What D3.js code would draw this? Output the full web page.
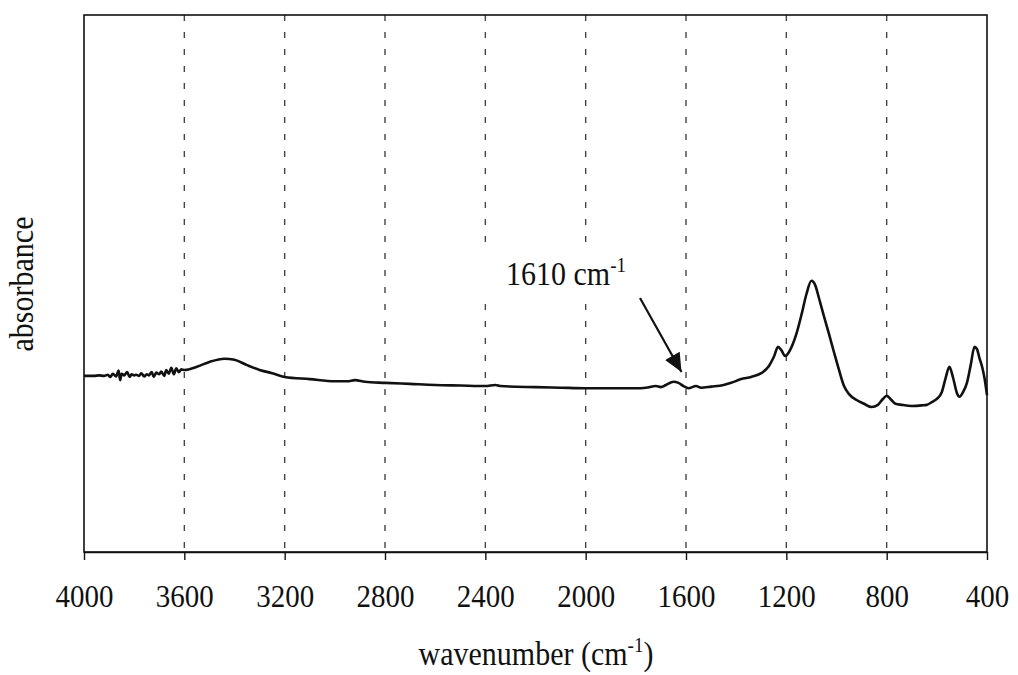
<!DOCTYPE html>
<html>
<head>
<meta charset="utf-8">
<script src="https://cdn.jsdelivr.net/npm/d3@7"></script>
<style>
  html, body { margin: 0; padding: 0; background: #fff; }
  svg { display: block; }
  text { font-family: "Liberation Serif", "Times New Roman", serif; fill: #111; }
</style>
</head>
<body>
<svg id="chart" width="1018" height="675"></svg>
<script>
// ---- data ----
const wavenumbers = [
  4000, 3960, 3940, 3920, 3905, 3895, 3885, 3872, 3862, 3856, 3850, 3840, 3828, 3818, 3810,
  3800, 3792, 3780, 3772, 3760, 3750, 3742, 3730, 3722, 3712, 3700, 3692, 3680, 3672, 3662,
  3652, 3642, 3632, 3622, 3612, 3600, 3550, 3500, 3440, 3400, 3350, 3300, 3250, 3200, 3100,
  3000, 2950, 2920, 2880, 2800, 2700, 2600, 2500, 2400, 2360, 2340, 2200, 2100, 2000, 1900,
  1800, 1760, 1720, 1700, 1680, 1650, 1630, 1610, 1590, 1560, 1540, 1500, 1450, 1420, 1380,
  1340, 1300, 1270, 1250, 1233, 1220, 1205, 1190, 1160, 1140, 1120, 1100, 1085, 1070, 1050,
  1030, 1010, 990, 970, 950, 920, 890, 860, 835, 815, 800, 785, 765, 740, 700,
  660, 640, 620, 600, 580, 565, 550, 535, 520, 510, 495, 480, 465, 450, 440,
  430, 420, 410, 400
];
const absorbance = [
  32.8, 32.8, 32.9, 32.8, 33.0, 32.6, 33.2, 32.7, 33.8, 32.0, 33.2, 32.9, 33.5, 32.6, 33.1,
  32.9, 33.0, 32.8, 33.3, 32.7, 33.1, 32.9, 33.5, 32.6, 33.4, 33.1, 33.6, 32.8, 33.9, 33.2,
  34.3, 33.1, 34.2, 33.5, 34.0, 33.9, 34.5, 35.4, 36.0, 35.8, 34.8, 33.9, 33.3, 32.6, 32.2,
  31.8, 31.8, 32.0, 31.7, 31.5, 31.3, 31.1, 31.0, 30.9, 31.1, 30.9, 30.7, 30.6, 30.5, 30.5,
  30.5, 30.6, 30.9, 30.7, 31.1, 31.7, 31.5, 30.9, 30.5, 30.9, 30.6, 30.8, 31.1, 31.5, 32.2,
  32.6, 33.3, 34.6, 36.3, 38.2, 37.6, 36.5, 37.2, 40.6, 44.1, 48.0, 50.5, 49.7, 47.3, 43.9,
  40.6, 37.2, 33.9, 30.9, 29.4, 28.3, 27.6, 27.0, 27.4, 28.5, 29.1, 28.5, 27.6, 27.4, 27.2,
  27.3, 27.4, 27.9, 28.5, 29.8, 32.4, 34.5, 32.4, 29.6, 28.9, 29.8, 31.5, 34.8, 38.2, 37.8,
  36.1, 34.6, 32.4, 29.2
];
const xTicks = [4000, 3600, 3200, 2800, 2400, 2000, 1600, 1200, 800, 400];
const gridValues = [3600, 3200, 2800, 2400, 2000, 1600, 1200, 800];
const xDomain = [4000, 400];
const yDomain = [0, 100];
const annotationWavenumber = 1610;

// ---- layout ----
const W = 1018, H = 675;
const margin = { left: 84, top: 15, right: 31, bottom: 123 };
const iw = W - margin.left - margin.right;
const ih = H - margin.top - margin.bottom;
const stretch = 1.12; // reference glyphs are vertically stretched

const svg = d3.select("#chart");
const g = svg.append("g").attr("transform", `translate(${margin.left},${margin.top})`);

const x = d3.scaleLinear().domain(xDomain).range([0, iw]);
const y = d3.scaleLinear().domain(yDomain).range([ih, 0]);

// gridlines
g.append("g").selectAll("line").data(gridValues).join("line")
  .attr("x1", d => x(d)).attr("x2", d => x(d))
  .attr("y1", 0).attr("y2", ih)
  .attr("stroke", "#444").attr("stroke-width", 1.4)
  .attr("stroke-dasharray", "6,11");

// white box behind annotation label (interrupts gridlines)
g.append("rect")
  .attr("x", 465 - margin.left).attr("y", 243 - margin.top)
  .attr("width", 195).attr("height", 60)
  .attr("fill", "#fff");

// frame
g.append("rect")
  .attr("x", 0).attr("y", 0).attr("width", iw).attr("height", ih)
  .attr("fill", "none").attr("stroke", "#111").attr("stroke-width", 1.6);

// x axis
const xAxis = d3.axisBottom(x).tickValues(xTicks).tickSize(8).tickSizeOuter(0).tickFormat(d3.format("d"));
const ax = g.append("g").attr("transform", `translate(0,${ih})`).call(xAxis);
ax.select(".domain").attr("stroke", "#111").attr("stroke-width", 1.4);
ax.selectAll(".tick line").attr("stroke", "#111").attr("stroke-width", 1.4);
ax.selectAll(".tick text")
  .attr("y", 0).attr("dy", 0)
  .attr("transform", `translate(0,55) scale(1,${stretch})`)
  .style("font-family", "'Liberation Serif', 'Times New Roman', serif")
  .style("font-size", "29px").attr("fill", "#111");

// spectrum line
const pts = wavenumbers.map((w, i) => [w, absorbance[i]]);
const line = d3.line().x(d => x(d[0])).y(d => y(d[1])).curve(d3.curveMonotoneX);
g.append("path").datum(pts)
  .attr("d", line)
  .attr("fill", "none").attr("stroke", "#111").attr("stroke-width", 2.6)
  .attr("stroke-linejoin", "round");

// annotation
const ann = svg.append("text")
  .attr("transform", `translate(506,285) scale(1,${stretch})`)
  .style("font-size", "30px");
ann.append("tspan").text("1610 cm");
ann.append("tspan").text("-1").attr("dy", -12).style("font-size", "19px");

// arrow to the 1610 band
const tipX = x(annotationWavenumber) + margin.left - 2;
const tipY = 372;
const startX = 640, startY = 298;
svg.append("defs").append("marker")
  .attr("id", "arrowhead").attr("viewBox", "0 0 10 9")
  .attr("refX", 10).attr("refY", 4.5)
  .attr("markerWidth", 8.5).attr("markerHeight", 7.6)
  .attr("markerUnits", "strokeWidth")
  .attr("orient", "auto")
  .append("path").attr("d", "M0,0 L10,4.5 L0,9 z").attr("fill", "#111");
svg.append("line")
  .attr("x1", startX).attr("y1", startY)
  .attr("x2", tipX).attr("y2", tipY)
  .attr("stroke", "#111").attr("stroke-width", 2.2)
  .attr("marker-end", "url(#arrowhead)");

// axis titles
const xt = svg.append("text")
  .attr("transform", `translate(536,665) scale(1,${stretch})`)
  .attr("text-anchor", "middle")
  .style("font-size", "30px");
xt.append("tspan").text("wavenumber (cm");
xt.append("tspan").text("-1").attr("dy", -12).style("font-size", "19px");
xt.append("tspan").text(")").attr("dy", 12);

svg.append("text")
  .attr("transform", `translate(33,284) rotate(-90) scale(1,${stretch})`)
  .attr("text-anchor", "middle")
  .style("font-size", "30px")
  .text("absorbance");
</script>
</body>
</html>
